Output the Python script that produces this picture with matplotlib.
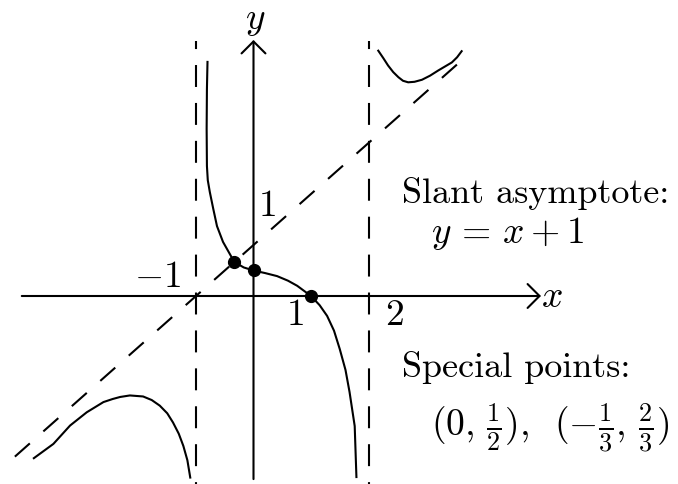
import numpy as np
import matplotlib
matplotlib.use('Agg')
import matplotlib.pyplot as plt
from matplotlib.patches import FancyArrowPatch

plt.rcParams['mathtext.fontset'] = 'cm'
plt.rcParams['lines.scale_dashes'] = False

# asymptotes: x = -1, x = 2 and the slant line y = x + 1
vert_asym = [-1, 2]
slant_slope = 1
slant_icpt = 1

# special points on the curve, plus the root at x = 1
pts_x = [0, -1/3, 1]
pts_y = [1/2, 2/3, 0]

# branch left of x = -1
left_x = [-3.82, -3.48, -3.19, -2.90, -2.61, -2.45, -2.32, -2.15, -1.92, -1.77, -1.63,
          -1.50, -1.40, -1.30, -1.22, -1.15, -1.10]
left_y = [-3.18, -2.90, -2.54, -2.28, -2.08, -2.02, -1.98, -1.95, -1.97, -2.04, -2.15,
          -2.30, -2.48, -2.70, -2.94, -3.22, -3.56]

# middle branch between the two vertical asymptotes
mid_x = [-0.80, -0.81, -0.815, -0.81, -0.795, -0.76, -0.70, -0.635, -0.53, -0.41, -1/3,
         -0.17, 0, 0.20, 0.41, 0.60, 0.76, 1, 1.15, 1.28, 1.40, 1.50, 1.60, 1.67, 1.76, 1.79]
mid_y = [4.59, 4.06, 3.28, 2.55, 2.27, 2.04, 1.71, 1.37, 1.06, 0.82, 2/3,
         0.56, 1/2, 0.45, 0.39, 0.30, 0.20, 0, -0.18, -0.39, -0.68, -1.04, -1.45, -1.88, -2.55, -3.55]

# branch right of x = 2
right_x = [2.17, 2.26, 2.34, 2.43, 2.52, 2.60, 2.69, 2.80, 2.93, 3.07, 3.21, 3.33, 3.45, 3.54, 3.62]
right_y = [4.81, 4.66, 4.52, 4.39, 4.29, 4.22, 4.19, 4.20, 4.24, 4.32, 4.42, 4.50, 4.58, 4.68, 4.80]

fig = plt.figure(figsize=(6.78, 4.85), dpi=100)
ax = fig.add_axes([0, 0, 1, 1])
ax.set_xlim(-4.4087, 7.3826)
ax.set_ylim(-3.6863, 5.8235)
ax.axis('off')

lw = 1.5
arrow = '->,head_length=0.43,head_width=0.43'

# coordinate axes with open arrow heads
ax.add_patch(FancyArrowPatch((-4.03, 0), (5.0, 0), arrowstyle=arrow, mutation_scale=20,
                             lw=lw, color='black', shrinkA=0, shrinkB=0))
ax.add_patch(FancyArrowPatch((0, -3.59), (0, 5.02), arrowstyle=arrow, mutation_scale=20,
                             lw=lw, color='black', shrinkA=0, shrinkB=0))

# dashed asymptotes
for xa in vert_asym:
    ax.plot([xa, xa], [5.0, -3.7], color='black', lw=lw, ls=(10, (15.8, 11.5)))
sx = np.array([-4.15, 3.68])
ax.plot(sx, slant_slope * sx + slant_icpt, color='black', lw=lw, ls=(0, (14.4, 13.0)))

# the three branches
for bx, by in [(left_x, left_y), (mid_x, mid_y), (right_x, right_y)]:
    ax.plot(bx, by, color='black', lw=lw, solid_joinstyle='round')

ax.plot(pts_x, pts_y, 'o', ms=8.5, color='black')

fs = 27
ax.text(0.03, 5.43, r'$y$', fontsize=fs, ha='center', va='center')
ax.text(5.19, 0.0, r'$x$', fontsize=fs, ha='center', va='center')
ax.text(-1.26, 0.39, r'$-1$', fontsize=fs, ha='right', va='center')
ax.text(0.72, -0.36, r'$1$', fontsize=fs, ha='center', va='center')
ax.text(2.45, -0.36, r'$2$', fontsize=fs, ha='center', va='center')
ax.text(0.24, 1.78, r'$1$', fontsize=fs, ha='center', va='center')

ax.text(2.58, 1.84, 'Slant asymptote:', fontsize=26, family='cmr10', va='baseline')
ax.text(3.09, 1.06, r'$y\,=\,x+1$', fontsize=fs, va='baseline')
ax.text(2.58, -1.56, 'Special points:', fontsize=26, family='cmr10', va='baseline')
ax.text(3.09, -2.74, r'$(0,\,\frac{1}{2}),\;\;(-\frac{1}{3},\,\frac{2}{3})$',
        fontsize=fs, va='baseline')

fig.savefig('out.png', dpi=100)
